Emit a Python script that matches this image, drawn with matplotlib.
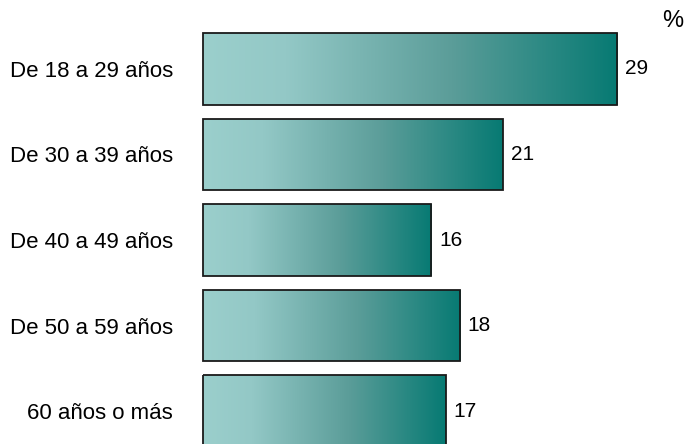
import matplotlib.pyplot as plt
import numpy as np
from matplotlib.colors import LinearSegmentedColormap

# Data
categories = ["De 18 a 29 años", "De 30 a 39 años", "De 40 a 49 años",
              "De 50 a 59 años", "60 años o más"]
values = [29, 21, 16, 18, 17]

plt.rcParams['font.family'] = ['Liberation Sans', 'DejaVu Sans']

teal = LinearSegmentedColormap.from_list(
    "teal", [(0, '#9bcfcc'), (0.2, '#93c8c6'), (0.6, '#5b9d99'), (1, '#077a73')])

fig = plt.figure(figsize=(6.87, 4.44), dpi=100)
ax = fig.add_axes([203 / 687, 0, 484 / 687, 1])

y = np.arange(len(values))
bars = ax.barh(y, values, height=0.84, facecolor='none', edgecolor='#1a1a1a', linewidth=1.3,
               zorder=3, clip_on=False)

# gradient fill, light on the left to dark teal on the right
grad = np.linspace(0, 1, 256).reshape(1, -1)
for bar in bars:
    x0, y0 = bar.get_x(), bar.get_y()
    w, h = bar.get_width(), bar.get_height()
    im = ax.imshow(grad, cmap=teal, aspect='auto', extent=[x0, x0 + w, y0, y0 + h], zorder=2)
    im.set_clip_path(bar)

for yi, v in zip(y, values):
    ax.annotate(str(v), (v, yi), xytext=(5.5, 0), textcoords='offset points',
                va='center', ha='left', fontsize=15)

ax.set_xlim(0, 484 / 14.28)
ax.set_ylim(444 / 85.5 - 69 / 85.5, -69 / 85.5)
ax.set_yticks(y)
ax.set_yticklabels(categories, fontsize=16)
ax.tick_params(axis='y', length=0, pad=21.5)
ax.set_xticks([])
for s in ax.spines.values():
    s.set_visible(False)

fig.text(683 / 687, 1 - 21 / 444, "%", ha='right', va='center', fontsize=17)

fig.savefig("out.png", dpi=100)
